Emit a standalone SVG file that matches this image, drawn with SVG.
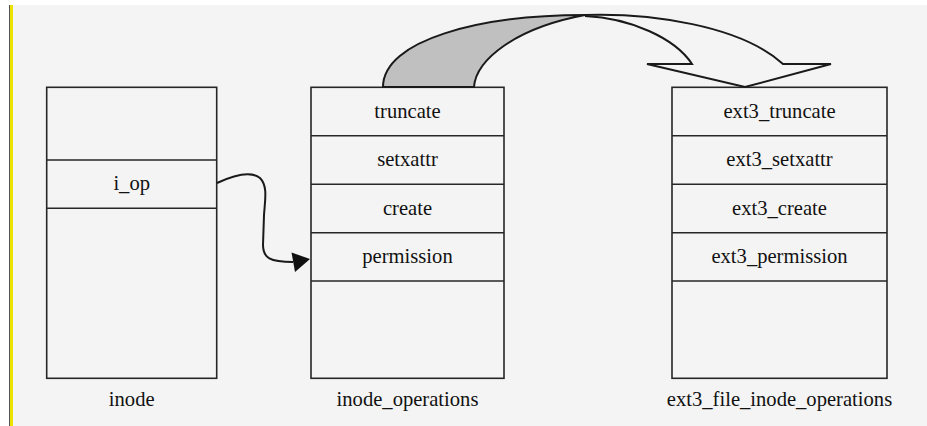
<svg xmlns="http://www.w3.org/2000/svg" width="927" height="426" viewBox="0 0 927 426">
<style>
.box{fill:none;stroke:#262626;stroke-width:1.6}
.div{stroke:#262626;stroke-width:1.6}
text{font-family:'Liberation Serif','Times New Roman',Times,serif;font-size:20.6px;fill:#111;text-anchor:middle}
.ln{fill:none;stroke:#1a1a1a;stroke-width:2}
</style>
<rect x="0" y="0" width="927" height="426" fill="#ffffff"/>
<rect x="10" y="5" width="917" height="421" fill="#f4f4f4"/>
<rect x="9" y="5" width="1" height="421" fill="#555"/>
<rect x="10" y="5" width="3" height="421" fill="#ede200"/>

<g id="inode">
<rect class="box" x="46.7" y="87.3" width="170" height="291"/>
<line class="div" x1="46.7" y1="160" x2="216.7" y2="160"/>
<line class="div" x1="46.7" y1="208.3" x2="216.7" y2="208.3"/>
<text x="131.7" y="190">i_op</text>
<text x="131.7" y="406">inode</text>
</g>

<g id="inode_operations">
<rect class="box" x="311" y="87.3" width="193" height="291"/>
<line class="div" x1="311" y1="135.7" x2="504" y2="135.7"/>
<line class="div" x1="311" y1="184.2" x2="504" y2="184.2"/>
<line class="div" x1="311" y1="232.7" x2="504" y2="232.7"/>
<line class="div" x1="311" y1="281" x2="504" y2="281"/>
<text x="407.5" y="117.5">truncate</text>
<text x="407.5" y="166">setxattr</text>
<text x="407.5" y="214.5">create</text>
<text x="407.5" y="263">permission</text>
<text x="407.5" y="406">inode_operations</text>
</g>

<g id="ext3_file_inode_operations">
<rect class="box" x="672" y="87.3" width="215" height="291"/>
<line class="div" x1="672" y1="135.7" x2="887" y2="135.7"/>
<line class="div" x1="672" y1="184.2" x2="887" y2="184.2"/>
<line class="div" x1="672" y1="232.7" x2="887" y2="232.7"/>
<line class="div" x1="672" y1="281" x2="887" y2="281"/>
<text x="779.5" y="117.5">ext3_truncate</text>
<text x="779.5" y="166">ext3_setxattr</text>
<text x="779.5" y="214.5">ext3_create</text>
<text x="779.5" y="263">ext3_permission</text>
<text x="779.5" y="406">ext3_file_inode_operations</text>
</g>

<g id="connectors">
<path class="ln" d="M217,183 C232,176 250,170 260,178 C268,186 265,200 264,215 L263,245 C263,258 270,262 293,262"/>
<polygon points="310,259 291.5,252.5 295,272" fill="#111"/>
<path d="M383,87 C383,40 480,15 585,15 C515,28 476,60 474,87 Z" fill="#c0c0c0" stroke="#1a1a1a" stroke-width="2"/>
<path d="M585,15 C650,13 740,25 783,64 L831,64 L745,87 L647,64 L692,64 C675,38 630,18 585,16" fill="none" stroke="#1a1a1a" stroke-width="2" stroke-linejoin="miter"/>
</g>
</svg>
